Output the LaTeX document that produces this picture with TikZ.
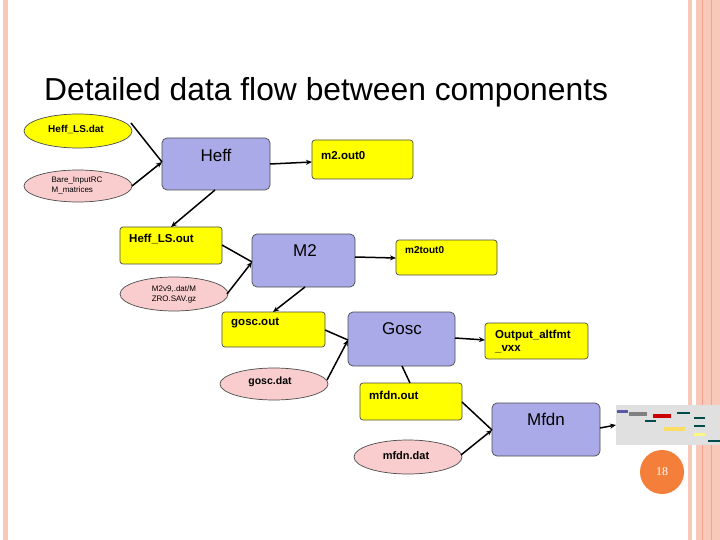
\documentclass[tikz,border=0pt]{standalone}
\usepackage{fontspec}
\setmainfont{Liberation Sans}
\usetikzlibrary{arrows.meta}
\definecolor{pb}{HTML}{AAAAE8}
\definecolor{py}{HTML}{FFFF00}
\definecolor{pp}{HTML}{F9CDCD}
\definecolor{band}{HTML}{F8C8B8}
\definecolor{org}{HTML}{F47F3A}
\begin{document}
\begin{tikzpicture}[x=1pt,y=-1pt,
  proc/.style={draw=black!70,fill=pb,rounded corners=5pt,line width=0.7pt},
  file/.style={draw=black!70,fill=py,rounded corners=3pt,line width=0.7pt},
  ell/.style={draw=black!70,line width=0.7pt},
  lab/.style={inner sep=0pt,anchor=north west,font=\bfseries\fontsize{11.5}{13}\selectfont},
  small/.style={align=left,font=\fontsize{8}{10}\selectfont,inner sep=0pt},
  big/.style={font=\fontsize{17}{18}\selectfont},
  con/.style={line width=1.5pt},
  arr/.style={con,-{Stealth[length=6pt,width=5pt]}}]
\useasboundingbox (0,0) rectangle (720,540);
\fill[white] (0,0) rectangle (720,540);
% borders
\fill[band] (3,0) rectangle (8,540);
\fill[band] (688,0) rectangle (692,540);
\fill[band] (696,0) rectangle (720,540);
\draw[band!80!red,line width=0.6pt] (702,0)--(702,540) (711,0)--(711,540);
% title
\node[anchor=base west,inner sep=0pt,font=\fontsize{31.8}{34}\selectfont] (title) at (44,101) {Detailed data flow between components};
% ellipses
\draw[ell,fill=py] (78,131) ellipse (54 and 17); \node[font=\bfseries\fontsize{10}{11}\selectfont] (hld) at (76,129) {Heff\_LS.dat};
\draw[ell,fill=pp] (78,186) ellipse (54 and 16); \node[small] (bare) at (77,186) {Bare\_InputRC\\M\_matrices};
\draw[ell,fill=pp] (174,294) ellipse (54 and 17); \node[small,align=center] (m2v) at (174,294) {M2v9,.dat/M\\ZRO.SAV.gz};
\draw[ell,fill=pp] (274,384) ellipse (54 and 16); \node[font=\bfseries\fontsize{10.5}{11}\selectfont] (gd) at (270,382) {gosc.dat};
\draw[ell,fill=pp] (408,457) ellipse (54 and 17); \node[font=\bfseries\fontsize{11}{12}\selectfont] (md) at (406,456) {mfdn.dat};
% processes
\draw[proc] (162,138) rectangle (270,190); \node[big] (heff) at (216,155) {Heff};
\draw[proc] (252,234) rectangle (355,287); \node[big] (m2) at (305,251) {M2};
\draw[proc] (348,312) rectangle (455,366); \node[big] (gosc) at (402,329) {Gosc};
\draw[proc] (492,403) rectangle (600,456); \node[big] (mfdn) at (546,419) {Mfdn};
% files
\draw[file] (312,140) rectangle (413,179); \node[lab] (m2o) at (321,151) {m2.out0};
\draw[file] (120,227) rectangle (222,264); \node[lab] (hlo) at (129,234) {Heff\_LS.out};
\draw[file] (396,240) rectangle (497,275); \node[lab,font=\bfseries\fontsize{10}{11}\selectfont] (m2t) at (405,246) {m2tout0};
\draw[file] (222,312) rectangle (325,347); \node[lab] (go) at (231,318) {gosc.out};
\draw[file] (485,323) rectangle (588,359); \node[lab,align=left] (oa) at (495,330) {Output\_altfmt\\\_vxx};
\draw[file] (360,383) rectangle (462,420); \node[lab] (mo) at (369,391) {mfdn.out};
% thumbnail
\fill[black!12] (616,405) rectangle (720,445);
\fill[blue!30!gray] (617,410) rectangle (628,413);
\fill[gray] (629,412) rectangle (647,416);
\fill[red!80!black] (653,414) rectangle (671,418);
\fill[teal!60!black] (677,412) rectangle (690,414);
\fill[teal!60!black] (645,420) rectangle (656,422);
\fill[yellow!60!orange!60] (664,427) rectangle (685,431);
\fill[teal!60!black] (694,417) rectangle (705,419);
\fill[teal!60!black] (694,425) rectangle (705,427);
\fill[yellow!50] (694,433) rectangle (705,436);
\fill[teal!60!black] (708,440) rectangle (720,442);
% page number
\fill[org] (662,472) circle (22);
\node[text=white,font=\fontspec{Liberation Serif}\fontsize{12}{13}\selectfont] (pn) at (662,472) {18};
% connectors
\coordinate (j1) at (162,162);
\coordinate (j2) at (252,262);
\coordinate (j3) at (348,340);
\coordinate (j4) at (492,430);
\draw[con] (131,123) -- (j1);
\draw[arr] (132,186) -- (j1);
\draw[arr] (215,190) -- (171,227);
\draw[arr] (270,164) -- (312,162);
\draw[con] (222,245) -- (j2);
\draw[arr] (227,294) -- (j2);
\draw[arr] (305,287) -- (273,312);
\draw[arr] (355,257) -- (396,258);
\draw[con] (325,330) -- (j3);
\draw[arr] (327,380) -- (j3);
\draw[arr] (455,338) -- (485,340);
\draw[con] (402,366) -- (410,383);
\draw[con] (462,402) -- (j4);
\draw[arr] (461,455) -- (j4);
\draw[arr] (600,428) -- (616,425);
\end{tikzpicture}
\end{document}
